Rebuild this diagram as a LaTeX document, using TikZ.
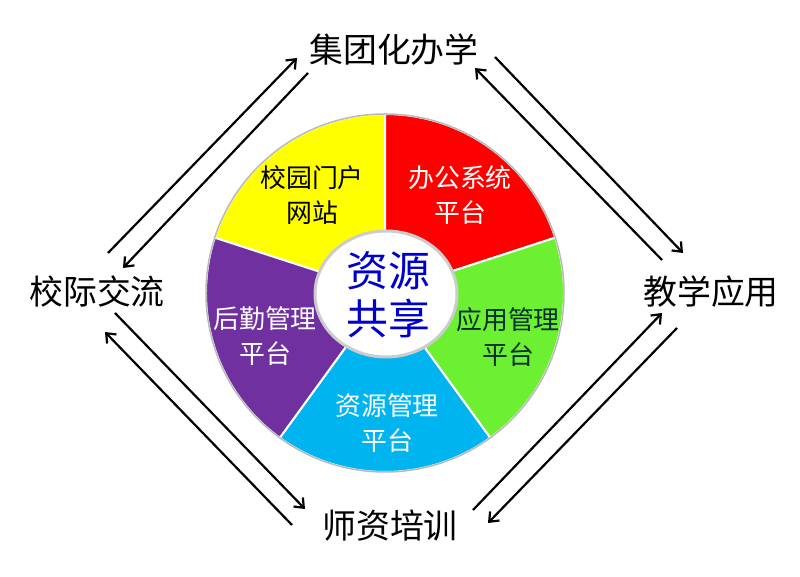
\documentclass[tikz,border=0pt]{standalone}
\usepackage{fontspec}
\setmainfont{Noto Sans CJK SC}
\usepackage{tikz}
\usetikzlibrary{arrows.meta,positioning,calc}
\definecolor{segyellow}{RGB}{255,255,0}
\definecolor{segred}{RGB}{255,0,0}
\definecolor{seggreen}{RGB}{110,240,50}
\definecolor{segcyan}{RGB}{0,180,240}
\definecolor{segpurple}{RGB}{112,48,160}
\definecolor{segdark}{RGB}{0,45,45}
\definecolor{coreblue}{RGB}{0,0,205}
\tikzstyle{goal} = [font=\fontsize{34}{40}\selectfont, inner sep=0pt]
\tikzstyle{seg} = [font=\fontsize{26}{35}\selectfont, align=center, inner sep=0pt]
\tikzstyle{core} = [font=\fontsize{42}{48}\selectfont, align=center, inner sep=0pt, text=coreblue]
\tikzstyle{slice} = [draw=white, line width=2bp]
\tikzstyle{link} = [line width=2.2bp, -{Straight Barb[length=8bp,width=13bp]}]

\begin{document}
\begin{tikzpicture}[x=1bp, y=1bp]
\useasboundingbox (0,0) rectangle (800,577);
\coordinate (o) at (385,284);
% ring
\path[slice, fill=segyellow] (o) -- ++(90:179) arc[start angle=90, end angle=162, radius=179] -- cycle;
\path[slice, fill=segred] (o) -- ++(18:179) arc[start angle=18, end angle=90, radius=179] -- cycle;
\path[slice, fill=seggreen] (o) -- ++(-54:179) arc[start angle=-54, end angle=18, radius=179] -- cycle;
\path[slice, fill=segcyan] (o) -- ++(-126:179) arc[start angle=-126, end angle=-54, radius=179] -- cycle;
\path[slice, fill=segpurple] (o) -- ++(162:179) arc[start angle=162, end angle=234, radius=179] -- cycle;
\draw[gray!55, line width=1.5bp] (o) circle (179);
\draw[fill=white, draw=gray!40, line width=3bp] (386,283) ellipse (71 and 63);
\node[seg] (mh) at (312,382) {校园门户\\网站};
\node[seg, text=white] (bg) at (460,382) {办公系统\\平台};
\node[seg, text=segdark] (yy) at (508,240) {应用管理\\平台};
\node[seg, text=white] (zy) at (387,154) {资源管理\\平台};
\node[seg, text=white] (hq) at (265,241) {后勤管理\\平台};
\node[core] (gx) at (388,282) {资源\\共享};
% outer goals
\node[goal] (jt) at (394,527) {集团化办学};
\node[goal] (xj) at (97,285) {校际交流};
\node[goal] (jx) at (711,285) {教学应用};
\node[goal] (sz) at (390,51) {师资培训};
\draw[link] ([shift={(11,39)}]xj.center) -- ([shift={(-97,-8)}]jt.center);
\draw[link] ([shift={(-86,-23)}]jt.center) -- ([shift={(26,24)}]xj.center);
\draw[link] ([shift={(-49,32)}]jx.center) -- ([shift={(81,-18)}]jt.center);
\draw[link] ([shift={(101,-7)}]jt.center) -- ([shift={(-28,39)}]jx.center);
\draw[link] ([shift={(83,16)}]sz.center) -- ([shift={(-49,-21)}]jx.center);
\draw[link] ([shift={(-34,-36)}]jx.center) -- ([shift={(98,3)}]sz.center);
\draw[link] ([shift={(18,-21)}]xj.center) -- ([shift={(-85,17)}]sz.center);
\draw[link] ([shift={(-98,1)}]sz.center) -- ([shift={(8,-40)}]xj.center);
\end{tikzpicture}
\end{document}
